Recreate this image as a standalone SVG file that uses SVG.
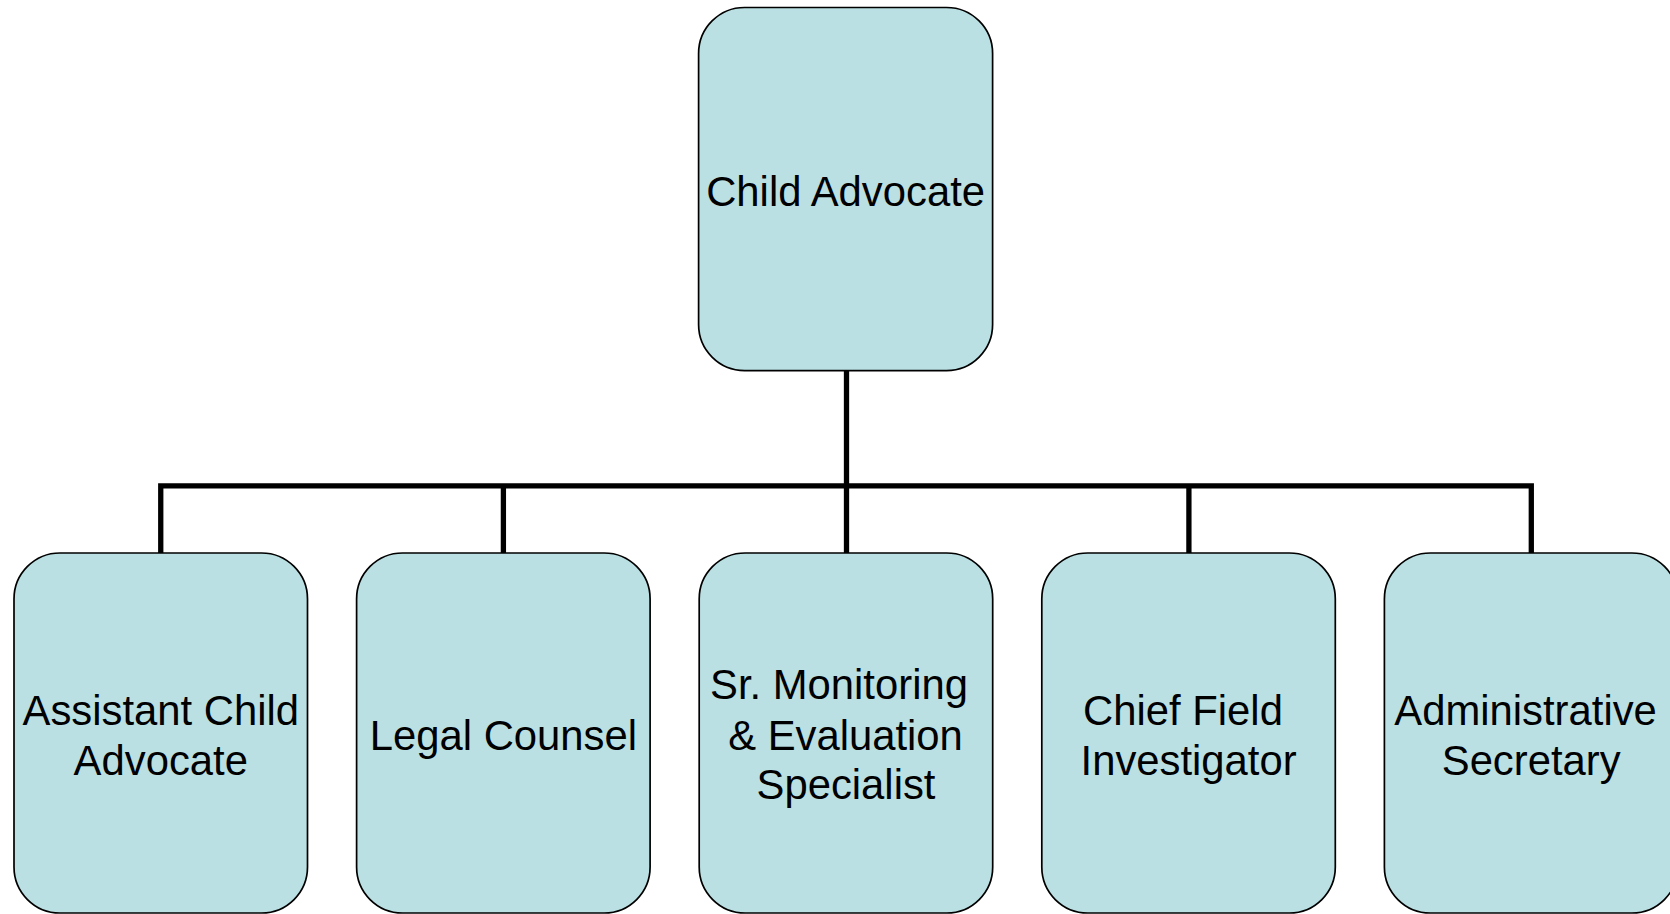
<svg xmlns="http://www.w3.org/2000/svg" width="1670" height="914" viewBox="0 0 1670 914">
<style>
.box{fill:#BAE0E3;stroke:#000;stroke-width:1.7}
.lbl{font-family:"Liberation Sans",Arial,sans-serif;font-size:41.8px;fill:#000;text-anchor:middle}
.conn{fill:none;stroke:#000;stroke-width:5.3;stroke-linejoin:miter;stroke-linecap:butt}
</style>
<rect width="1670" height="914" fill="#fff"/>
<g id="connectors">
<path class="conn" d="M160.75,553 V485.8 H1531.3 V553"/>
<path class="conn" d="M846.5,370.6 V553"/>
<path class="conn" d="M503.4,485.8 V553"/>
<path class="conn" d="M1188.9,485.8 V553"/>
</g>
<g id="child-advocate">
<rect class="box" x="698.6" y="7.5" width="294" height="363.1" rx="46" ry="46"/>
<text class="lbl" x="845.6" y="205.5">Child Advocate</text>
</g>
<g id="assistant-child-advocate">
<rect class="box" x="14" y="553" width="293.5" height="360" rx="46" ry="46"/>
<text class="lbl" x="160.75" y="725">Assistant Child</text>
<text class="lbl" x="160.75" y="775">Advocate</text>
</g>
<g id="legal-counsel">
<rect class="box" x="356.6" y="553" width="293.5" height="360" rx="46" ry="46"/>
<text class="lbl" x="503.4" y="750">Legal Counsel</text>
</g>
<g id="sr-monitoring">
<rect class="box" x="699.2" y="553" width="293.5" height="360" rx="46" ry="46"/>
<text class="lbl" x="839" y="699">Sr. Monitoring</text>
<text class="lbl" x="845.5" y="750">&amp; Evaluation</text>
<text class="lbl" x="846" y="799">Specialist</text>
</g>
<g id="chief-field-investigator">
<rect class="box" x="1041.8" y="553" width="293.5" height="360" rx="46" ry="46"/>
<text class="lbl" x="1183" y="725">Chief Field</text>
<text class="lbl" x="1188.6" y="775">Investigator</text>
</g>
<g id="administrative-secretary">
<rect class="box" x="1384.4" y="553" width="293.5" height="360" rx="46" ry="46"/>
<text class="lbl" x="1525.6" y="725">Administrative</text>
<text class="lbl" x="1531.2" y="775">Secretary</text>
</g>
</svg>
